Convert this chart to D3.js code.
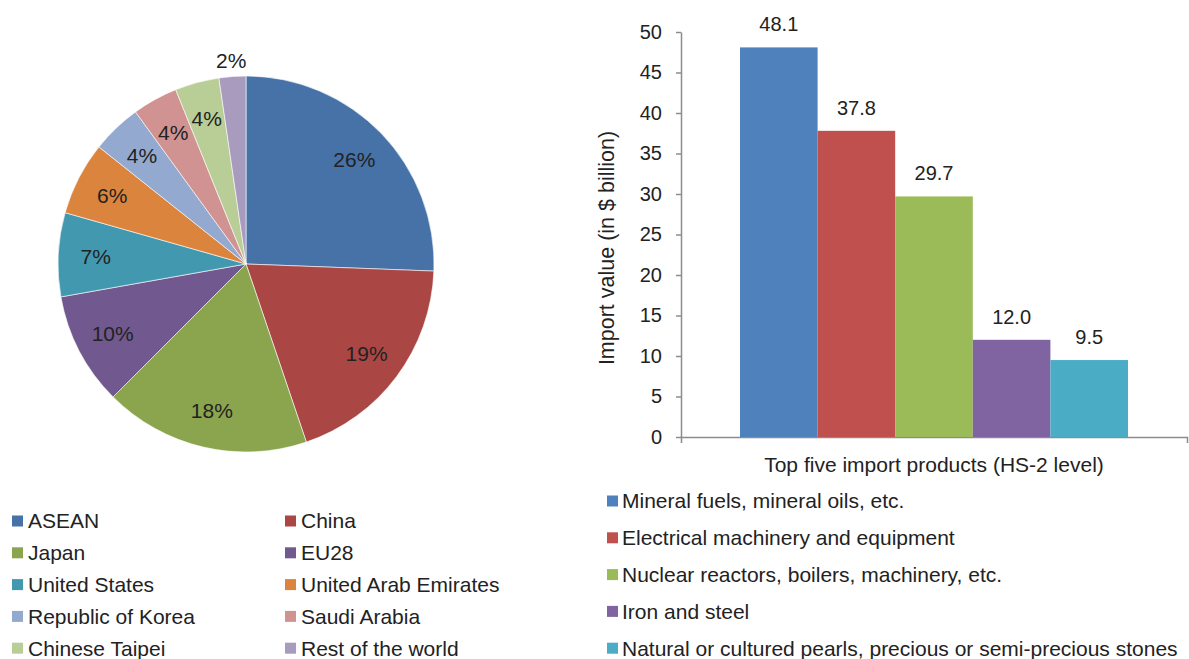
<!DOCTYPE html>
<html>
<head>
<meta charset="utf-8">
<script src="https://cdn.jsdelivr.net/npm/d3@7/dist/d3.min.js"></script>
<style>
    body { margin: 0; background: #fff; }
    svg text { font-family: "Liberation Sans", Arial, sans-serif; fill: #222; }
</style>
</head>
<body>
<script>
    // pie: import partners (share, %)
    var partners = ["ASEAN", "China", "Japan", "EU28", "United States", "United Arab Emirates",
                    "Republic of Korea", "Saudi Arabia", "Chinese Taipei", "Rest of the world"];
    var shares = [25.6, 19.2, 17.7, 9.7, 7.2, 6.3, 4.3, 3.9, 3.8, 2.3];
    var pieColors = ["#4672A8", "#AA4744", "#8BA54E", "#71588F", "#4298AF",
                     "#DB843D", "#93A9CF", "#D19392", "#B9CD96", "#A99BBD"];

    // bars: top five import products ($ billion)
    var products = ["Mineral fuels, mineral oils, etc.", "Electrical machinery and equipment",
                    "Nuclear reactors, boilers, machinery, etc.", "Iron and steel",
                    "Natural or cultured pearls, precious or semi-precious stones"];
    var importValues = [48.1, 37.8, 29.7, 12.0, 9.5];
    var barColors = ["#4F81BD", "#C0504D", "#9BBB59", "#8064A2", "#4BACC6"];
    var yTicks = [0, 5, 10, 15, 20, 25, 30, 35, 40, 45, 50];

    var W = 1189, H = 659;
    var svg = d3.select("body").append("svg")
        .attr("width", W)
        .attr("height", H);

    // ---------- pie ----------
    var cx = 246, cy = 264, r = 188;
    var pie = d3.pie().sort(null).value(function(d){ return d; });
    var arc = d3.arc().innerRadius(0).outerRadius(r);
    var labelArc = d3.arc().innerRadius(r * 0.8).outerRadius(r * 0.8);
    var outArc = d3.arc().innerRadius(r + 16).outerRadius(r + 16);

    var pg = svg.append("g").attr("transform", "translate(" + cx + "," + cy + ")");
    var arcs = pie(shares);

    pg.selectAll("path")
        .data(arcs)
        .enter()
        .append("path")
        .attr("d", arc)
        .attr("fill", function(d, i){ return pieColors[i]; })
        .attr("stroke", "#fff")
        .attr("stroke-width", 0.6);

    pg.selectAll("text.lbl")
        .data(arcs)
        .enter()
        .append("text")
        .attr("class", "lbl")
        .attr("transform", function(d, i){
            var c = (i == arcs.length - 1) ? outArc.centroid(d) : labelArc.centroid(d);
            return "translate(" + c[0] + "," + c[1] + ")";
        })
        .attr("text-anchor", "middle")
        .attr("dy", "0.35em")
        .style("font-size", "21px")
        .text(function(d){ return Math.round(d.data) + "%"; });

    // pie legend
    var pItems = svg.append("g").selectAll("g")
        .data(partners)
        .enter()
        .append("g")
        .attr("transform", function(d, i){
            var col = i % 2, row = Math.floor(i / 2);
            return "translate(" + (12 + col * 273) + "," + (521 + row * 31.8) + ")";
        });
    pItems.append("rect")
        .attr("x", 0).attr("y", -5.5)
        .attr("width", 11).attr("height", 11)
        .attr("fill", function(d, i){ return pieColors[i]; });
    pItems.append("text")
        .attr("x", 16)
        .attr("dy", "0.35em")
        .style("font-size", "21px")
        .text(function(d){ return d; });

    // ---------- bar chart ----------
    var x0 = 681, x1 = 1187, yTop = 32, yBot = 437;
    var y = d3.scaleLinear().domain([0, 50]).range([yBot, yTop]);
    var band = d3.scaleBand().domain(products).range([740, 1128]).padding(0);
    var axisColor = "#8c8c8c";

    var yAxis = svg.append("g")
        .attr("transform", "translate(" + x0 + ",0)")
        .call(d3.axisLeft(y).tickValues(yTicks).tickSize(5).tickPadding(14).tickSizeOuter(0));
    yAxis.select(".domain").attr("stroke", axisColor).attr("stroke-width", 1.5);
    yAxis.selectAll(".tick line").attr("stroke", axisColor).attr("stroke-width", 1.5);
    yAxis.selectAll("text")
        .style("font-family", "'Liberation Sans', Arial, sans-serif")
        .style("font-size", "20px")
        .attr("fill", "#222");

    // category axis (single category)
    var xs = d3.scaleBand().domain(["all"]).range([x0, x1]);
    var xAxis = svg.append("g")
        .attr("transform", "translate(0," + yBot + ")")
        .call(d3.axisBottom(xs).tickSize(0).tickSizeOuter(6).tickFormat(""));
    xAxis.select(".domain").attr("stroke", axisColor).attr("stroke-width", 1.5);

    svg.selectAll("rect.bar")
        .data(importValues)
        .enter()
        .append("rect")
        .attr("class", "bar")
        .attr("x", function(d, i){ return band(products[i]); })
        .attr("width", band.bandwidth())
        .attr("y", function(d){ return y(d); })
        .attr("height", function(d){ return yBot - y(d); })
        .attr("fill", function(d, i){ return barColors[i]; });

    svg.selectAll("text.val")
        .data(importValues)
        .enter()
        .append("text")
        .attr("class", "val")
        .attr("x", function(d, i){ return band(products[i]) + band.bandwidth() / 2; })
        .attr("y", function(d){ return y(d) - 16; })
        .attr("text-anchor", "middle")
        .style("font-size", "20px")
        .text(function(d){ return d.toFixed(1); });

    svg.append("text")
        .attr("transform", "translate(614,248) rotate(-90)")
        .attr("text-anchor", "middle")
        .style("font-size", "21.5px")
        .text("Import value (in $ billion)");

    svg.append("text")
        .attr("x", (x0 + x1) / 2)
        .attr("y", 472)
        .attr("text-anchor", "middle")
        .style("font-size", "21px")
        .text("Top five import products (HS-2 level)");

    // bar legend
    var bItems = svg.append("g").selectAll("g")
        .data(products)
        .enter()
        .append("g")
        .attr("transform", function(d, i){
            return "translate(607," + (501 + i * 36.8) + ")";
        });
    bItems.append("rect")
        .attr("x", 0).attr("y", -5.5)
        .attr("width", 11).attr("height", 11)
        .attr("fill", function(d, i){ return barColors[i]; });
    bItems.append("text")
        .attr("x", 15)
        .attr("dy", "0.35em")
        .style("font-size", "21px")
        .text(function(d){ return d; });
</script>
</body>
</html>
